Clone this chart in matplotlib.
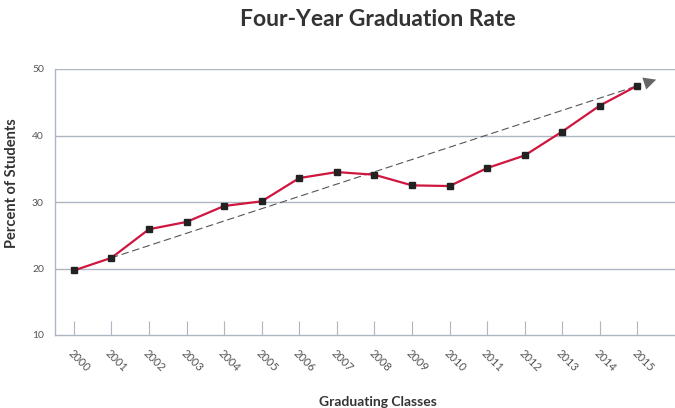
import matplotlib
matplotlib.use("Agg")
import matplotlib.pyplot as plt

years = ["2000", "2001", "2002", "2003", "2004", "2005", "2006", "2007",
         "2008", "2009", "2010", "2011", "2012", "2013", "2014", "2015"]
rates = [19.7, 21.6, 25.9, 27.0, 29.4, 30.1, 33.6, 34.5,
         34.1, 32.5, 32.4, 35.1, 37.0, 40.6, 44.5, 47.5]
trend_start = (1, 21.6)
trend_end = (15.5, 48.4)
yticks = [10, 20, 30, 40, 50]

plt.rcParams['font.family'] = ['Lato', 'DejaVu Sans']

fig = plt.figure(figsize=(6.75, 4.08), dpi=100)
ax = fig.add_axes([55/675, 1-335/408, 1-55/675, (335-69)/408])

grid_c = '#aeb6c2'
x = list(range(len(years)))

ax.set_xlim(-0.5, 16.0)
ax.set_ylim(10, 50)
ax.set_yticks(yticks)
ax.set_yticklabels([str(v) for v in yticks])
ax.set_xticks(x)
ax.set_xticklabels(years, rotation=-45, ha='left', va='top', rotation_mode='anchor')

for v in yticks[1:]:
    ax.axhline(v, color=grid_c, lw=1.0, zorder=1)

for s in ['top', 'right']:
    ax.spines[s].set_visible(False)
for s in ['left', 'bottom']:
    ax.spines[s].set_color(grid_c)
    ax.spines[s].set_linewidth(1.0)

ax.tick_params(axis='x', direction='in', length=10, color=grid_c, labelsize=8,
               labelcolor='#555555', pad=9)
ax.tick_params(axis='y', length=0, labelsize=7.5, labelcolor='#555555', pad=8)

# trend arrow: dashed shaft plus solid head
ax.annotate('', xy=trend_end, xytext=trend_start,
            arrowprops=dict(arrowstyle='-', color='#555555', lw=0.8,
                            linestyle=(0, (6, 4)), shrinkA=0, shrinkB=12), zorder=2)
ax.annotate('', xy=trend_end, xytext=(trend_end[0] - 0.3, trend_end[1] - 0.55),
            arrowprops=dict(arrowstyle='-|>,head_length=0.9,head_width=0.45',
                            color='#666666', lw=0.01, shrinkA=0, shrinkB=0), zorder=2)

ax.plot(x, rates, color='#d0163f', lw=1.6, marker='s', markersize=5,
        markerfacecolor='#222222', markeredgecolor='#222222', zorder=3)

fig.text(378/675, 1-20/408, 'Four-Year Graduation Rate', ha='center', va='center',
         fontsize=16.5, fontweight='bold', color='#333333')
fig.text(12/675, 1-183/408, 'Percent of Students', ha='center', va='center',
         rotation=90, fontsize=10.5, fontweight='bold', color='#333333')
fig.text(378/675, 1-402/408, 'Graduating Classes', ha='center', va='center',
         fontsize=10, fontweight='bold', color='#333333')

fig.savefig('out.png', dpi=100)
